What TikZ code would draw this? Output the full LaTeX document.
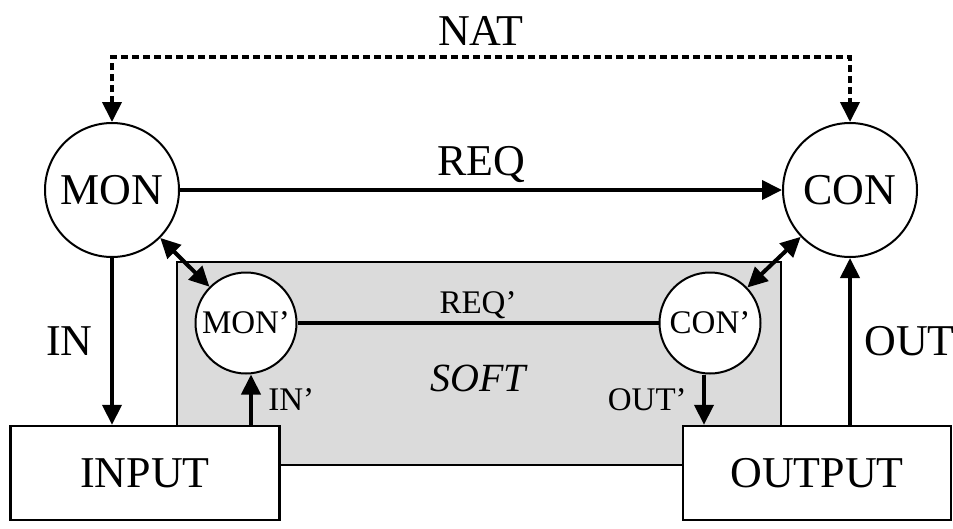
\documentclass[tikz,border=0pt]{standalone}
\usepackage{fontspec}
\setmainfont{Liberation Serif}
\usetikzlibrary{arrows.meta}
\begin{document}
\begin{tikzpicture}[x=1pt, y=-1pt, line cap=butt, line join=miter, >={Triangle[length=20pt,width=19pt]}]
				\tikzset{big/.style={font=\fontsize{44}{44}\selectfont},
				small/.style={font=\fontsize{33}{33}\selectfont},
				agent/.style={circle, draw, line width=2pt, fill=white, inner sep=0pt},
				device/.style={draw, line width=2.4pt, fill=white, inner sep=0pt},
				link/.style={line width=4pt}}
				\useasboundingbox (0,0) rectangle (953,528);
				% software box
				\draw[line width=2.4pt, fill=black!14] (177,262) rectangle (781,465);
				\node[agent, minimum size=134pt, big] (mon) at (112,190) {MON};
				\node[agent, minimum size=134pt, big] (con) at (850,190) {CON};
				\node[agent, minimum size=101pt, small] (monp) at (246,323) {MON'};
				\node[agent, minimum size=101pt, small] (conp) at (710,323) {CON'};
				\node[device, minimum width=269pt, minimum height=94pt, big] (input) at (145,473) {INPUT};
				\node[device, minimum width=268pt, minimum height=94pt, big] (output) at (817,473) {OUTPUT};
				\node[font=\fontsize{40}{40}\selectfont\itshape] (soft) at (478,378) {SOFT};
				% relations
				\draw[link, <->, dash pattern=on 7pt off 4pt] (mon.north) -- (mon.north |- 0,57) coordinate (natl)
				-- (con.north |- 0,57) coordinate (natr) -- (con.north);
				\path (natl) -- (natr) node[midway, above=8pt, big]{NAT};
				\draw[link, ->] (mon) -- node[above=2pt, big]{REQ} (con);
				\draw[link, ->] (mon) -- node[left=14pt, big]{IN} (mon |- input.north);
				\draw[link, ->] (output.north -| con) -- node[right=9pt, big]{OUT} (con);
				\draw[link] (monp) -- node[above=-1pt, small]{REQ'} (conp);
				\draw[link, ->] (input.north -| 251,0) -- node[right=12pt, small]{IN'} (monp.south -| 251,0);
				\draw[link, ->] (conp.south -| 704,0) -- node[left=12pt, small]{OUT'} (output.north -| 704,0);
				\foreach \a/\b in {mon/monp, con/conp} \draw[link, <->] (\a) -- (\b);
			\end{tikzpicture}
\end{document}
